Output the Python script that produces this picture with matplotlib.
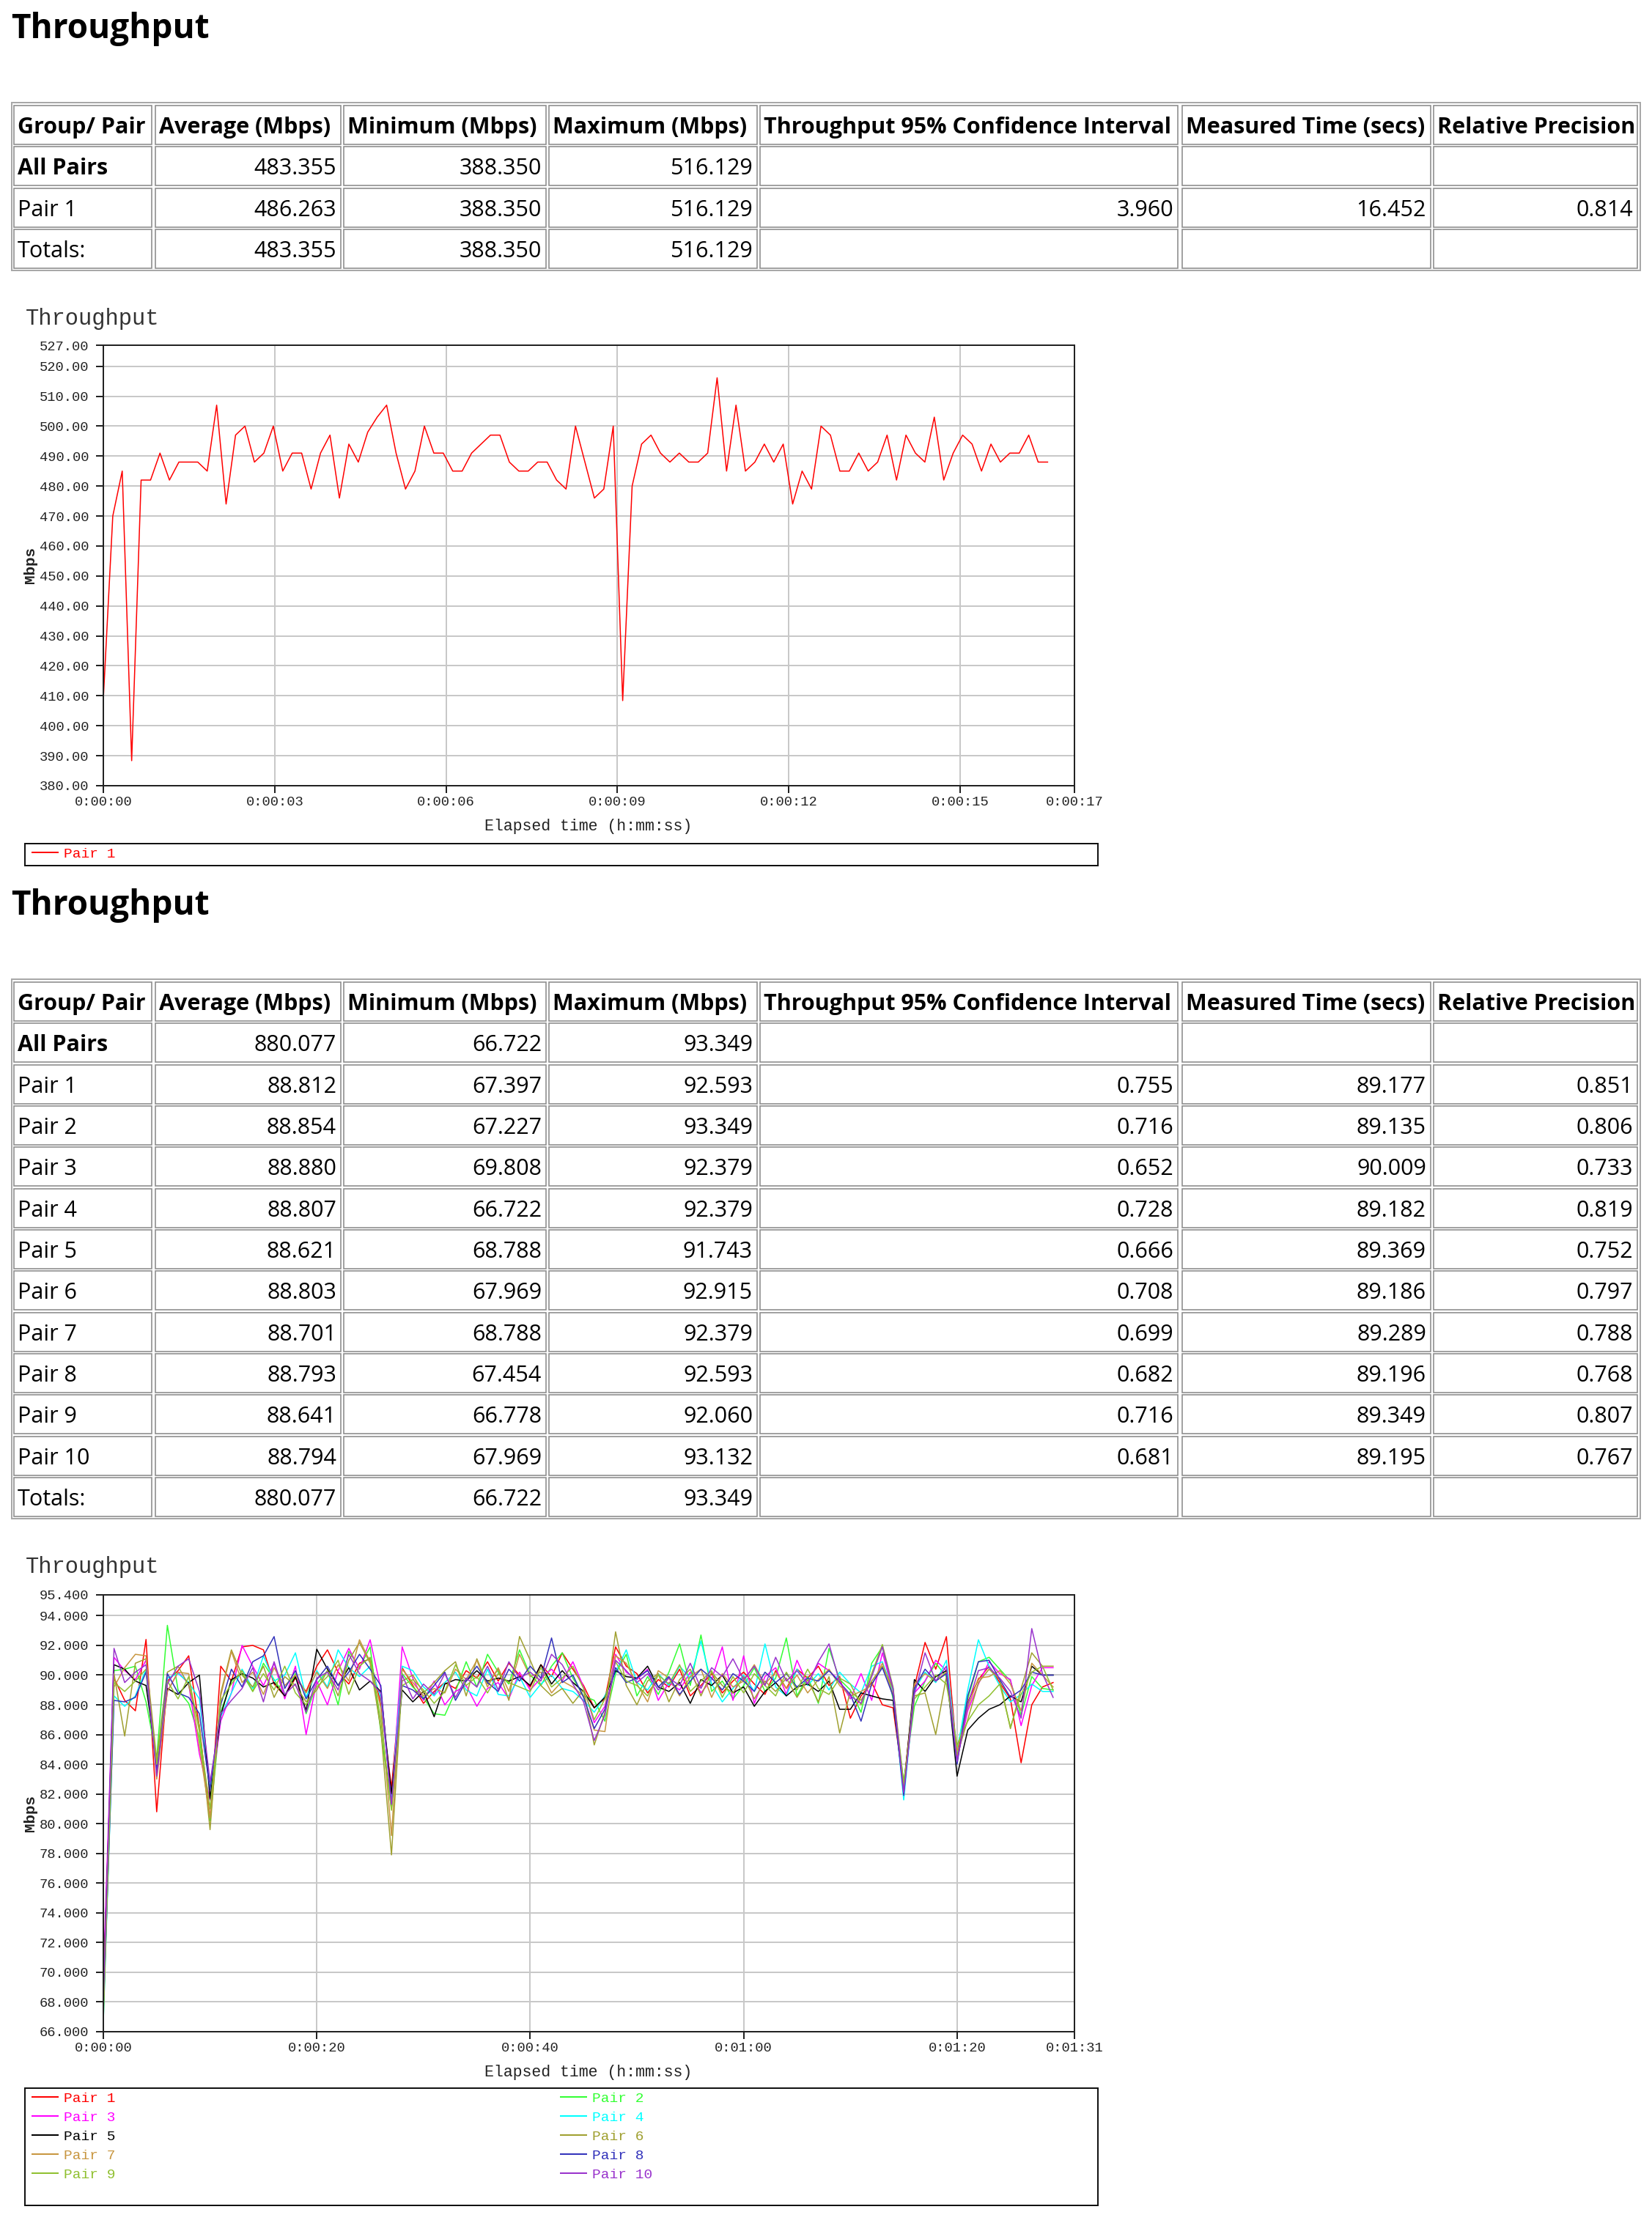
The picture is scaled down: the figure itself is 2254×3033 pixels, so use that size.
import numpy as np
import matplotlib
matplotlib.use("Agg")
import matplotlib.pyplot as plt
from matplotlib.patches import Rectangle
from matplotlib.lines import Line2D

# ---------------------------------------------------------------- data
table_headers = ["Group/ Pair", "Average (Mbps)", "Minimum (Mbps)", "Maximum (Mbps)",
                 "Throughput 95% Confidence Interval", "Measured Time (secs)",
                 "Relative Precision"]

# test 1: one pair
t1_groups = ["All Pairs", "Pair 1", "Totals:"]
t1_avg = [483.355, 486.263, 483.355]
t1_min = [388.350, 388.350, 388.350]
t1_max = [516.129, 516.129, 516.129]
t1_ci = [None, 3.960, None]
t1_time = [None, 16.452, None]
t1_prec = [None, 0.814, None]

# test 2: ten pairs
t2_groups = ["All Pairs"] + [f"Pair {i}" for i in range(1, 11)] + ["Totals:"]
t2_avg = [880.077, 88.812, 88.854, 88.880, 88.807, 88.621, 88.803, 88.701, 88.793,
          88.641, 88.794, 880.077]
t2_min = [66.722, 67.397, 67.227, 69.808, 66.722, 68.788, 67.969, 68.788, 67.454,
          66.778, 67.969, 66.722]
t2_max = [93.349, 92.593, 93.349, 92.379, 92.379, 91.743, 92.915, 92.379, 92.593,
          92.060, 93.132, 93.349]
t2_ci = [None, 0.755, 0.716, 0.652, 0.728, 0.666, 0.708, 0.699, 0.682, 0.716, 0.681, None]
t2_time = [None, 89.177, 89.135, 90.009, 89.182, 89.369, 89.186, 89.289, 89.196, 89.349,
           89.195, None]
t2_prec = [None, 0.851, 0.806, 0.733, 0.819, 0.752, 0.797, 0.788, 0.768, 0.807, 0.767, None]

# chart 1: Pair 1 throughput samples (Mbps)
chart1_interval = 0.1653  # seconds between samples
chart1_pair1 = [
    409.0, 470.0, 485.0, 388.350, 482.0, 482.0, 491.0, 482.0, 488.0, 488.0,
    488.0, 485.0, 507.0, 474.0, 497.0, 500.0, 488.0, 491.0, 500.0, 485.0,
    491.0, 491.0, 479.0, 491.0, 497.0, 476.0, 494.0, 488.0, 498.0, 503.0,
    507.0, 491.0, 479.0, 485.0, 500.0, 491.0, 491.0, 485.0, 485.0, 491.0,
    494.0, 497.0, 497.0, 488.0, 485.0, 485.0, 488.0, 488.0, 482.0, 479.0,
    500.0, 488.0, 476.0, 479.0, 500.0, 408.4, 480.0, 494.0, 497.0, 491.0,
    488.0, 491.0, 488.0, 488.0, 491.0, 516.129, 485.0, 507.0, 485.0, 488.0,
    494.0, 488.0, 494.0, 474.0, 485.0, 479.0, 500.0, 497.0, 485.0, 485.0,
    491.0, 485.0, 488.0, 497.0, 482.0, 497.0, 491.0, 488.0, 503.0, 482.0,
    491.0, 497.0, 494.0, 485.0, 494.0, 488.0, 491.0, 491.0, 497.0, 488.0,
    488.0,
]

# chart 2: ten pairs, one sample per second (Mbps)
chart2_interval = 1.0
pair_01 = [
    67.397, 89.8, 88.3, 87.6, 92.4, 80.8, 89.6, 90.3, 91.3, 86.5,
    80.3, 90.6, 89.6, 91.9, 92.0, 91.7, 89.4, 88.6, 89.8, 88.9,
    90.6, 91.7, 90.2, 89.4, 90.8, 91.1, 88.1, 82.4, 90.5, 89.3,
    88.1, 88.9, 89.5, 89.1, 90.3, 89.8, 90.9, 89.6, 90.8, 90.0,
    89.2, 90.7, 89.9, 91.5, 90.4, 89.3, 87.8, 88.4, 91.9, 90.6,
    90.1, 88.8, 89.7, 89.2, 90.4, 88.6, 89.3, 90.1, 88.8, 89.6,
    90.2, 89.4, 88.7, 90.3, 89.1, 90.4, 89.8, 90.6, 89.3, 89.9,
    87.1, 88.6, 89.5, 88.0, 87.8, 82.6, 89.2, 92.2, 90.4, 92.593,
    84.5, 88.2, 89.7, 90.6, 89.5, 88.4, 84.1, 88.0, 89.2, 89.5,
]
pair_02 = [
    67.227, 90.3, 90.4, 90.6, 88.2, 84.4, 93.349, 89.0, 88.1, 85.8,
    80.2, 87.5, 89.6, 90.1, 88.9, 90.8, 89.7, 88.6, 90.1, 87.4,
    89.4, 90.3, 88.0, 91.6, 90.5, 91.9, 86.2, 81.0, 90.1, 89.2,
    88.5, 87.4, 87.3, 88.9, 90.9, 89.2, 91.4, 90.2, 89.4, 91.7,
    90.0, 89.3, 90.6, 91.5, 89.8, 88.6, 88.3, 86.9, 90.1, 91.4,
    88.6, 89.9, 88.7, 90.2, 92.1, 89.3, 92.7, 88.9, 89.6, 88.4,
    89.3, 90.5, 88.9, 89.8, 92.5, 88.6, 89.9, 88.1, 91.8, 89.7,
    89.0, 87.5, 90.8, 91.9, 88.4, 82.8, 87.9, 89.6, 90.8, 89.9,
    85.0, 88.4, 90.9, 91.2, 90.4, 89.6, 87.3, 89.9, 89.1, 89.0,
]
pair_03 = [
    69.808, 91.2, 90.3, 89.7, 91.0, 83.4, 88.9, 90.2, 89.4, 84.7,
    81.6, 86.9, 88.8, 92.0, 90.6, 89.3, 90.8, 88.4, 90.6, 86.0,
    89.6, 88.0, 90.3, 91.8, 90.4, 92.379, 89.1, 81.4, 91.9, 89.8,
    88.3, 89.6, 88.0, 88.9, 89.3, 87.9, 89.1, 89.5, 88.4, 90.2,
    89.0, 89.8, 90.4, 89.6, 90.9, 89.2, 86.8, 87.9, 91.4, 90.2,
    89.7, 90.4, 88.3, 89.5, 89.0, 90.2, 88.8, 89.7, 91.9, 88.3,
    91.3, 88.1, 89.9, 90.5, 88.7, 91.0, 89.4, 90.8, 90.3, 89.6,
    88.4, 90.1, 88.3, 91.5, 89.0, 82.0, 88.8, 89.6, 91.0, 90.3,
    84.3, 87.6, 89.4, 90.9, 90.1, 89.7, 86.6, 89.3, 90.5, 90.5,
]
pair_04 = [
    66.722, 88.6, 87.9, 88.6, 90.4, 83.6, 89.8, 90.1, 89.5, 88.4,
    82.4, 87.2, 88.8, 90.4, 89.1, 91.3, 89.6, 90.0, 91.5, 88.5,
    90.3, 89.2, 91.7, 90.5, 89.9, 90.6, 88.5, 81.6, 90.6, 90.3,
    89.2, 88.6, 89.5, 90.2, 89.0, 88.6, 90.4, 88.7, 88.6, 89.9,
    88.5, 89.4, 90.0, 89.1, 88.9, 88.3, 87.5, 88.6, 90.2, 91.7,
    89.5, 89.0, 90.1, 89.3, 90.6, 89.8, 92.3, 89.4, 88.2, 89.1,
    90.0, 88.9, 92.1, 89.2, 88.6, 90.4, 89.3, 90.1, 89.0, 90.2,
    89.4, 88.8, 90.6, 90.9, 88.9, 81.6, 89.0, 90.2, 89.5, 91.0,
    84.8, 89.0, 92.379, 90.6, 89.3, 88.2, 88.7, 89.4, 88.9, 88.9,
]
pair_05 = [
    68.788, 90.7, 90.4, 89.6, 89.3, 84.2, 89.1, 88.7, 89.5, 90.0,
    81.7, 87.3, 89.7, 90.1, 89.8, 89.2, 89.5, 88.6, 89.9, 87.6,
    91.743, 90.4, 89.3, 90.5, 89.0, 89.6, 88.9, 82.0, 89.0, 88.2,
    88.9, 87.2, 89.4, 89.7, 89.6, 90.3, 89.6, 89.8, 89.6, 89.9,
    89.3, 90.7, 89.4, 90.3, 89.5, 88.9, 87.8, 88.5, 90.3, 89.9,
    89.8, 90.6, 89.2, 88.9, 89.5, 88.1, 89.7, 89.3, 90.0, 88.8,
    89.2, 87.9, 88.9, 89.5, 88.6, 89.2, 89.4, 88.9, 89.6, 87.7,
    87.7, 88.8, 88.6, 88.4, 88.3, 82.3, 89.7, 88.9, 89.9, 90.3,
    83.2, 86.3, 87.1, 87.7, 88.0, 88.6, 88.2, 90.6, 90.0, 90.0,
]
pair_06 = [
    67.969, 90.1, 85.9, 90.8, 91.1, 84.3, 90.2, 90.6, 89.3, 86.6,
    79.6, 88.8, 91.7, 90.0, 89.2, 90.6, 88.5, 89.9, 89.3, 88.2,
    89.0, 90.3, 88.6, 91.0, 92.2, 90.8, 86.4, 77.9, 89.6, 90.0,
    88.8, 89.5, 90.3, 90.9, 88.6, 91.1, 89.4, 90.4, 88.3, 92.6,
    91.0, 89.3, 88.6, 89.1, 88.1, 89.0, 85.3, 87.5, 92.915, 89.3,
    88.0, 89.6, 90.1, 88.2, 89.7, 90.4, 88.6, 90.2, 89.3, 88.8,
    89.9, 88.4, 89.6, 88.9, 89.8, 88.5, 89.7, 88.2, 89.9, 86.1,
    88.9, 88.3, 89.6, 90.6, 89.1, 82.4, 88.6, 88.8, 86.0, 89.9,
    84.6, 87.0, 89.5, 90.4, 89.7, 86.4, 89.1, 91.5, 90.6, 90.6,
]
pair_07 = [
    68.788, 89.2, 90.5, 91.4, 91.3, 83.0, 88.9, 90.2, 90.1, 85.2,
    80.4, 88.6, 91.6, 89.5, 90.2, 88.7, 90.5, 89.3, 90.0, 88.8,
    90.2, 89.1, 90.7, 89.6, 92.379, 90.9, 87.8, 79.2, 90.4, 89.5,
    88.6, 89.1, 88.8, 90.4, 89.7, 91.0, 89.2, 90.5, 88.9, 91.4,
    89.9, 90.2, 88.8, 89.6, 89.2, 88.6, 86.3, 86.2, 91.3, 90.8,
    89.4, 88.2, 90.3, 89.8, 88.6, 89.9, 90.4, 88.5, 90.1, 89.2,
    89.6, 90.7, 89.4, 90.2, 89.1, 90.0, 88.8, 89.7, 90.4, 89.3,
    88.6, 88.9, 89.3, 90.8, 88.7, 82.1, 89.4, 90.1, 89.6, 90.2,
    84.9, 87.8, 89.8, 89.9, 90.3, 89.4, 87.6, 90.8, 90.0, 89.2,
]
pair_08 = [
    67.454, 88.3, 88.2, 88.5, 90.2, 83.6, 90.1, 88.8, 88.5, 87.4,
    82.3, 88.0, 90.4, 89.2, 90.9, 91.3, 92.593, 89.1, 90.3, 88.4,
    89.7, 90.6, 89.3, 90.2, 91.4, 90.4, 89.3, 81.1, 89.3, 89.0,
    88.4, 89.3, 90.2, 88.3, 89.6, 90.6, 89.5, 88.9, 90.4, 89.6,
    90.6, 89.8, 92.5, 89.5, 90.0, 88.5, 86.4, 87.7, 90.5, 89.5,
    89.8, 90.3, 89.2, 89.9, 88.7, 89.6, 90.4, 89.8, 89.0, 90.1,
    89.6, 88.9, 90.2, 89.5, 90.1, 89.2, 89.8, 89.6, 90.3, 89.5,
    88.7, 86.9, 89.4, 90.5, 88.6, 81.9, 89.1, 90.4, 89.6, 90.1,
    84.0, 88.6, 90.9, 91.0, 89.7, 88.5, 89.0, 90.2, 90.0, 90.0,
]
pair_09 = [
    66.778, 89.5, 88.9, 89.6, 90.4, 84.0, 89.6, 88.4, 89.9, 86.2,
    81.0, 88.3, 89.4, 90.3, 88.9, 90.1, 89.0, 90.6, 88.8, 88.0,
    89.2, 89.9, 91.0, 88.7, 90.6, 91.2, 87.0, 80.9, 89.3, 89.7,
    89.0, 88.1, 88.9, 90.7, 89.3, 89.9, 88.8, 90.1, 89.5, 89.2,
    88.9, 90.5, 89.2, 89.8, 90.6, 89.1, 87.0, 88.4, 90.9, 89.6,
    89.3, 88.6, 90.0, 89.4, 90.7, 88.9, 89.6, 90.3, 88.5, 89.9,
    88.8, 90.1, 89.3, 88.6, 90.2, 89.0, 90.4, 89.1, 88.7, 89.8,
    89.4, 88.0, 90.1, 92.060, 89.2, 82.7, 88.4, 89.2, 90.0, 89.4,
    85.3, 86.9, 88.0, 88.6, 89.4, 86.5, 88.7, 90.2, 90.6, 89.0,
]
pair_10 = [
    67.969, 91.8, 89.5, 90.2, 90.7, 83.2, 89.4, 90.6, 91.1, 88.9,
    82.8, 87.4, 88.3, 89.1, 90.5, 88.2, 90.9, 88.7, 89.4, 87.5,
    89.8, 90.2, 89.0, 91.4, 90.1, 89.6, 88.8, 81.3, 90.0, 88.4,
    89.4, 88.7, 90.1, 88.5, 89.8, 89.2, 90.6, 89.0, 90.9, 89.8,
    90.2, 89.6, 91.4, 90.7, 89.4, 88.2, 85.6, 87.3, 91.0, 90.3,
    89.5, 90.1, 89.0, 89.8, 89.3, 90.8, 89.1, 90.5, 89.9, 91.1,
    89.7, 90.6, 89.3, 91.2, 89.6, 90.3, 89.4, 90.9, 92.1, 89.5,
    88.6, 88.1, 89.9, 91.9, 89.1, 82.1, 88.7, 91.5, 89.6, 90.6,
    84.2, 88.0, 90.3, 90.5, 89.8, 88.9, 87.1, 93.132, 90.1, 88.5,
]
chart2_series = [pair_01, pair_02, pair_03, pair_04, pair_05,
                 pair_06, pair_07, pair_08, pair_09, pair_10]
chart2_labels = [f"Pair {i}" for i in range(1, 11)]
chart2_colors = ["#ff0000", "#33ff33", "#ff00ff", "#00ffff", "#000000",
                 "#a0a030", "#c89640", "#3333bb", "#90c030", "#9933cc"]

# ---------------------------------------------------------------- layout
W, H = 2254, 3033
PX = 0.72                      # points per pixel at 100 dpi
UI = "Open Sans"
MONO = "Liberation Mono"
TABLE_FS = 22

fig = plt.figure(figsize=(W / 100, H / 100), dpi=100)
fig.patch.set_facecolor("white")
page = fig.add_axes([0, 0, 1, 1])
page.set_xlim(0, W)
page.set_ylim(H, 0)
page.axis("off")

col_edges = [(19, 207), (212, 465), (469, 745), (749, 1033),
             (1037, 1607), (1613, 1952), (1956, 2234)]
ROW_H = 56.33


def fmt(v):
    return "" if v is None else f"{v:.3f}"


def draw_table(top, groups, avg, mn, mx, ci, tm, prec):
    nrows = len(groups) + 1
    page.add_patch(Rectangle((16, top), 2238 - 16, 4 + nrows * ROW_H, fill=False,
                             ec="#a8a8a8", lw=2 * PX))
    body = [[g, fmt(a), fmt(b), fmt(c), fmt(d), fmt(e), fmt(f)]
            for g, a, b, c, d, e, f in zip(groups, avg, mn, mx, ci, tm, prec)]
    for r in range(nrows):
        y0 = top + 4 + r * ROW_H
        y1 = y0 + 53
        yc = (y0 + y1) / 2
        for c, (x0, x1) in enumerate(col_edges):
            page.add_patch(Rectangle((x0, y0), x1 - x0, y1 - y0, fill=False,
                                     ec="#8c8c8c", lw=1.6 * PX))
            if r == 0:
                page.text(x0 + 5, yc, table_headers[c], fontsize=TABLE_FS, family=UI,
                          fontweight="bold", ha="left", va="center_baseline")
            else:
                s = body[r - 1][c]
                if c == 0:
                    bold = s == "All Pairs"
                    page.text(x0 + 5, yc, s, fontsize=TABLE_FS, family=UI,
                              fontweight="bold" if bold else "normal",
                              ha="left", va="center_baseline")
                else:
                    page.text(x1 - 6, yc, s, fontsize=TABLE_FS, family=UI,
                              ha="right", va="center_baseline")


def hms(s):
    s = int(round(s))
    return f"{s // 3600}:{s % 3600 // 60:02d}:{s % 60:02d}"


def style_chart(ax, ymin, ymax, yticks, yfmt, xmax, xticks):
    ax.set_xlim(0, xmax)
    ax.set_ylim(ymin, ymax)
    ax.set_yticks(yticks)
    ax.set_yticklabels([yfmt % v for v in yticks])
    ax.set_xticks(xticks)
    ax.set_xticklabels([hms(v) for v in xticks])
    ax.grid(True, color="#c8c8c8", lw=2 * PX)
    ax.set_axisbelow(True)
    for sp in ax.spines.values():
        sp.set_color("#222222")
        sp.set_linewidth(2 * PX)
    ax.tick_params(axis="both", direction="out", length=10 * PX, width=2 * PX,
                   color="#222222", labelcolor="#222222", labelsize=13.5)
    ax.tick_params(axis="y", pad=7)
    ax.tick_params(axis="x", pad=3)
    for lab in ax.get_xticklabels() + ax.get_yticklabels():
        lab.set_family(MONO)


def chart_frame(ax_top, ax_bottom, title_y):
    page.text(35, title_y, "Throughput", fontsize=22, family=MONO, color="#333333",
              ha="left", va="center")
    page.text(41, (ax_top + ax_bottom) / 2, "Mbps", fontsize=15, family=MONO,
              fontweight="bold", color="#222222", rotation=90, ha="center", va="center")
    page.text(803, ax_bottom + 55, "Elapsed time (h:mm:ss)", fontsize=15.5, family=MONO,
              color="#222222", ha="center", va="center")


def legend_box(top, bottom, lines, columns):
    page.add_patch(Rectangle((34, top), 1498 - 34, bottom - top, fill=False,
                             ec="#111111", lw=2 * PX))
    for i, ln in enumerate(lines):
        col = i % columns
        row = i // columns
        x0 = 44 if col == 0 else 765
        y = top + 12 + row * 26
        page.add_line(Line2D([x0, x0 + 35], [y, y], color=ln.get_color(), lw=2 * PX))
        page.text(x0 + 43, y + 2, ln.get_label(), fontsize=14, family=MONO,
                  color=ln.get_color(), ha="left", va="center")


# ---------------------------------------------------------------- block 1
page.text(15, 52, "Throughput", fontsize=33, family=UI, fontweight="bold",
          ha="left", va="baseline")
draw_table(140, t1_groups, t1_avg, t1_min, t1_max, t1_ci, t1_time, t1_prec)

ax1_top, ax1_bot = 471, 1072
ax1 = fig.add_axes([141 / W, 1 - ax1_bot / H, 1325 / W, (ax1_bot - ax1_top) / H])
t1 = np.arange(len(chart1_pair1)) * chart1_interval
line1, = ax1.plot(t1, chart1_pair1, color="#ff0000", lw=1.1, label="Pair 1")
style_chart(ax1, 380, 527, [380, 390, 400, 410, 420, 430, 440, 450, 460, 470, 480,
                            490, 500, 510, 520, 527], "%.2f", 17,
            [0, 3, 6, 9, 12, 15, 17])
chart_frame(ax1_top, ax1_bot, 435)
legend_box(1151, 1181, [line1], 1)

# ---------------------------------------------------------------- block 2
page.text(15, 52 + 1196, "Throughput", fontsize=33, family=UI, fontweight="bold",
          ha="left", va="baseline")
draw_table(1336, t2_groups, t2_avg, t2_min, t2_max, t2_ci, t2_time, t2_prec)

ax2_top, ax2_bot = 2176, 2772
ax2 = fig.add_axes([141 / W, 1 - ax2_bot / H, 1325 / W, (ax2_bot - ax2_top) / H])
lines2 = []
for vals, lab, col in zip(chart2_series, chart2_labels, chart2_colors):
    t2 = np.arange(len(vals)) * chart2_interval
    ln, = ax2.plot(t2, vals, color=col, lw=1.1, label=lab)
    lines2.append(ln)
style_chart(ax2, 66, 95.4, [66, 68, 70, 72, 74, 76, 78, 80, 82, 84, 86, 88, 90, 92,
                            94, 95.4], "%.3f", 91, [0, 20, 40, 60, 80, 91])
chart_frame(ax2_top, ax2_bot, 2138)
legend_box(2849, 3009, lines2, 2)

fig.savefig("out.png", dpi=100)
